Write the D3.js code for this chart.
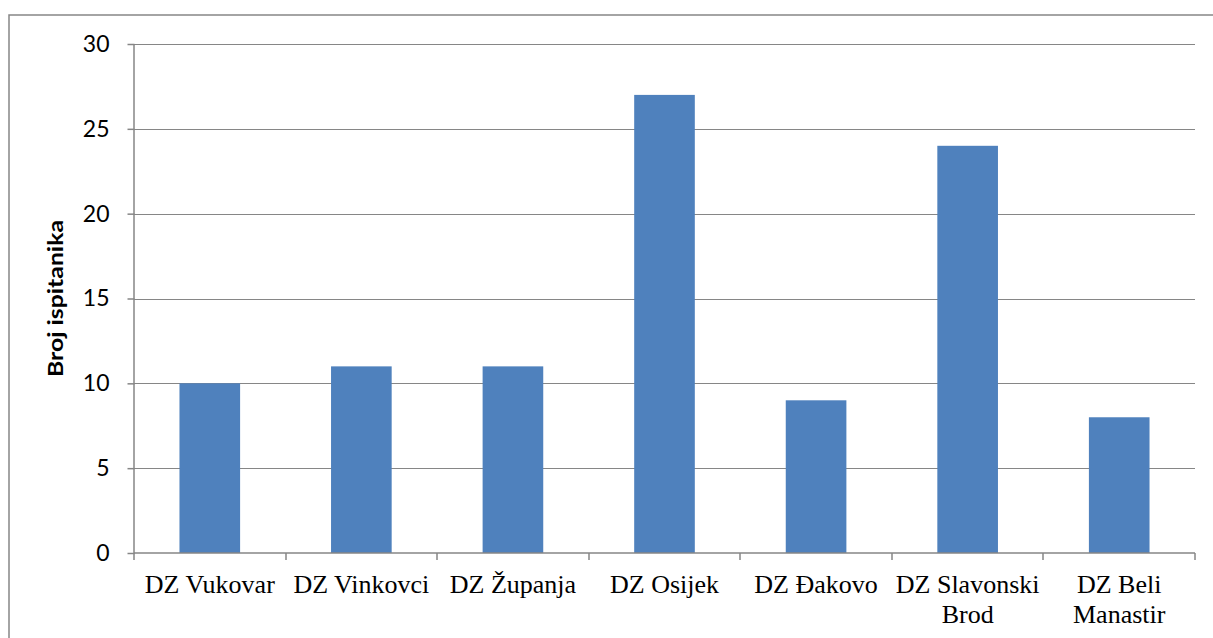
<!DOCTYPE html>
<html>
<head>
<meta charset="utf-8">
<script src="https://cdn.jsdelivr.net/npm/d3@7"></script>
<style>
  body { margin: 0; background: #fff; }
  svg { display: block; }
</style>
</head>
<body>
<div id="chart"></div>
<script>
// podaci s grafikona
const categories = ["DZ Vukovar", "DZ Vinkovci", "DZ Županja", "DZ Osijek", "DZ Đakovo", "DZ Slavonski Brod", "DZ Beli Manastir"];
const values = [10, 11, 11, 27, 9, 24, 8];
const yTicks = [0, 5, 10, 15, 20, 25, 30];
const yTitle = "Broj ispitanika";

const width = 1213, height = 638;
const plot = { left: 134, right: 1195, top: 44, bottom: 553 };
const gray = "#868686";

const svg = d3.select("#chart").append("svg")
    .attr("width", width)
    .attr("height", height);

// okvir grafikona (desni i donji rub su odrezani)
svg.append("rect")
    .attr("x", 9).attr("y", 15)
    .attr("width", width + 10).attr("height", height + 10)
    .attr("fill", "#fff")
    .attr("stroke", gray)
    .attr("stroke-width", 1.5);

const x = d3.scaleBand()
    .domain(categories)
    .range([plot.left, plot.right])
    .paddingInner(0.6)
    .paddingOuter(0.3);

const y = d3.scaleLinear()
    .domain([0, 30])
    .range([plot.bottom, plot.top]);

// mreža
svg.append("g")
    .selectAll("line")
    .data(yTicks.filter(d => d > 0))
    .join("line")
    .attr("x1", plot.left).attr("x2", plot.right)
    .attr("y1", d => Math.round(y(d)) + 0.5).attr("y2", d => Math.round(y(d)) + 0.5)
    .attr("stroke", gray)
    .attr("stroke-width", 1);

// stupci
svg.append("g")
    .selectAll("rect")
    .data(values)
    .join("rect")
    .attr("x", (d, i) => x(categories[i]))
    .attr("y", d => y(d))
    .attr("width", x.bandwidth())
    .attr("height", d => y(0) - y(d))
    .attr("fill", "#4F81BD");

// Y os
const yAxis = d3.axisLeft(y)
    .tickValues(yTicks)
    .tickSize(7)
    .tickPadding(18)
    .tickFormat(d3.format("d"));

const gY = svg.append("g")
    .attr("transform", `translate(${plot.left + 0.5},0)`)
    .call(yAxis);
gY.select(".domain").attr("stroke", gray).attr("d", `M-0.5,${plot.top}V${plot.bottom}`).attr("stroke-width", 1.5);
gY.selectAll(".tick line").attr("stroke", gray).attr("stroke-width", 1.5);
gY.selectAll(".tick text")
    .attr("fill", "#000")
    .style("font-family", "Lato, 'Open Sans', sans-serif")
    .style("font-size", "23px");

// X os
const gX = svg.append("g")
    .attr("transform", `translate(0,${plot.bottom})`);
gX.append("line")
    .attr("x1", plot.left).attr("x2", plot.right)
    .attr("y1", 0).attr("y2", 0)
    .attr("stroke", gray).attr("stroke-width", 1.5);
// kvačice na granicama kategorija
const bounds = categories.map(c => x(c) - x.step() * x.paddingInner() / 2);
bounds.push(plot.right);
gX.selectAll(".bnd")
    .data(bounds)
    .join("line")
    .attr("class", "bnd")
    .attr("x1", d => Math.round(d)).attr("x2", d => Math.round(d))
    .attr("y1", 0).attr("y2", 7)
    .attr("stroke", gray).attr("stroke-width", 1.5);

// oznake kategorija, s prelamanjem dugih naziva
const labels = gX.selectAll(".lbl")
    .data(categories)
    .join("text")
    .attr("class", "lbl")
    .attr("x", d => x(d) + x.bandwidth() / 2)
    .attr("y", 40)
    .attr("text-anchor", "middle")
    .style("font-family", "'Liberation Serif', 'Times New Roman', serif")
    .style("font-size", "26px")
    .attr("fill", "#000");

labels.each(function (d) {
    const t = d3.select(this);
    t.text(d);
    if (this.getComputedTextLength() > x.step() - 4) {
        const cut = d.lastIndexOf(" ");
        t.text(null);
        t.append("tspan").attr("x", x(d) + x.bandwidth() / 2).text(d.slice(0, cut));
        t.append("tspan").attr("x", x(d) + x.bandwidth() / 2).attr("dy", 30).text(d.slice(cut + 1));
    }
});

// naslov Y osi
svg.append("text")
    .attr("transform", `translate(63,${(plot.top + plot.bottom) / 2}) rotate(-90)`)
    .attr("text-anchor", "middle")
    .attr("textLength", 157)
    .attr("lengthAdjust", "spacingAndGlyphs")
    .style("font-family", "Lato, 'Open Sans', sans-serif")
    .style("font-weight", "bold")
    .style("font-size", "21px")
    .text(yTitle);
</script>
</body>
</html>
